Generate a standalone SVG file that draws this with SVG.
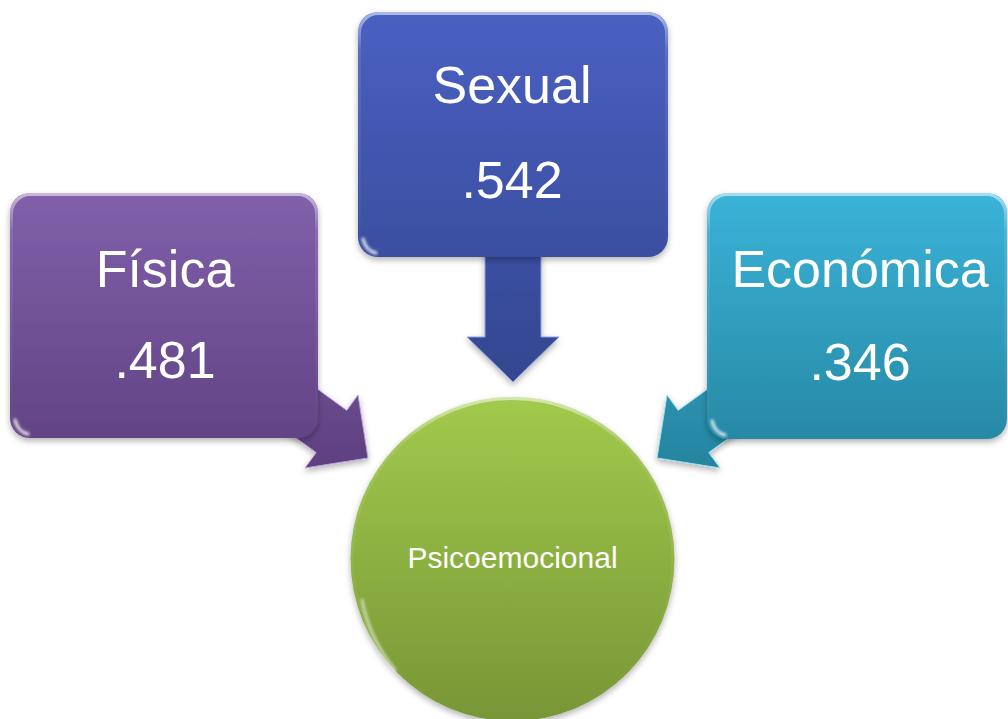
<svg xmlns="http://www.w3.org/2000/svg" width="1008" height="719" viewBox="0 0 1008 719">
  <style>
    .big { font-family: "Liberation Sans", Arial, sans-serif; font-size: 52px; fill: #ffffff; text-anchor: middle; }
    .small { font-family: "Liberation Sans", Arial, sans-serif; font-size: 30px; fill: #ffffff; text-anchor: middle; }
    .shine { fill: none; stroke: #ffffff; stroke-linecap: round; }
  </style>
  <defs>
    <linearGradient id="gPurple" x1="0" y1="193" x2="0" y2="470" gradientUnits="userSpaceOnUse">
      <stop offset="0" stop-color="#8060aa"/>
      <stop offset="1" stop-color="#5f4080"/>
    </linearGradient>
    <linearGradient id="gBlue" x1="0" y1="12" x2="0" y2="385" gradientUnits="userSpaceOnUse">
      <stop offset="0" stop-color="#4a60c2"/>
      <stop offset="1" stop-color="#33468f"/>
    </linearGradient>
    <linearGradient id="gCyan" x1="0" y1="193" x2="0" y2="470" gradientUnits="userSpaceOnUse">
      <stop offset="0" stop-color="#3ab3d8"/>
      <stop offset="1" stop-color="#25849f"/>
    </linearGradient>
    <linearGradient id="gGreen" x1="0" y1="0" x2="0" y2="1">
      <stop offset="0" stop-color="#a2ca4c"/>
      <stop offset="1" stop-color="#779636"/>
    </linearGradient>
    <linearGradient id="gEdge" x1="0" y1="0" x2="0" y2="1">
      <stop offset="0" stop-color="#ffffff" stop-opacity="0.55"/>
      <stop offset="0.15" stop-color="#ffffff" stop-opacity="0.1"/>
      <stop offset="1" stop-color="#ffffff" stop-opacity="0"/>
    </linearGradient>
    <filter id="shadow" x="-10%" y="-10%" width="120%" height="125%">
      <feDropShadow dx="0" dy="3" stdDeviation="3" flood-color="#000000" flood-opacity="0.3"/>
    </filter>
    <filter id="blur" x="-20%" y="-50%" width="140%" height="200%">
      <feGaussianBlur stdDeviation="1.5"/>
    </filter>
  </defs>

  <g id="connectors" filter="url(#shadow)">
    <polygon id="arrow-fisica" fill="url(#gPurple)" stroke="#b9a3d6" stroke-width="1" points="273.8,357.4 346.8,410.4 358,395 368,458 305,468 316.2,452.6 243.2,399.6"/>
    <polygon id="arrow-sexual" fill="url(#gBlue)" stroke="#8e9ee0" stroke-width="1" points="485,250 541,250 541,337 559,337 513,382 467,337 485,337"/>
    <polygon id="arrow-economica" fill="url(#gCyan)" stroke="#9ee0f0" stroke-width="1" points="751.2,357.4 678.2,410.4 667,395 657,458 720,468 708.8,452.6 781.8,399.6"/>
  </g>

  <g id="fisica">
    <rect x="10" y="193" width="308" height="245" rx="20" fill="url(#gPurple)" filter="url(#shadow)"/>
    <rect x="11.5" y="194.5" width="305" height="242" rx="19" fill="none" stroke="url(#gEdge)" stroke-width="3"/>
    <path class="shine" d="M30,202 L298,202" stroke-width="3" opacity="0.5" filter="url(#blur)"/>
    <path class="shine" d="M15,420 Q18,432 28,434" stroke-width="3" opacity="0.9" filter="url(#blur)"/>
    <text class="big" x="165" y="287">Física</text>
    <text class="big" x="165" y="378">.481</text>
  </g>

  <g id="sexual">
    <rect x="358" y="12" width="310" height="245" rx="20" fill="url(#gBlue)" filter="url(#shadow)"/>
    <rect x="359.5" y="13.5" width="307" height="242" rx="19" fill="none" stroke="url(#gEdge)" stroke-width="3"/>
    <path class="shine" d="M378,21 L648,21" stroke-width="3" opacity="0.5" filter="url(#blur)"/>
    <path class="shine" d="M363,239 Q366,251 376,253" stroke-width="3" opacity="0.9" filter="url(#blur)"/>
    <text class="big" x="512" y="103">Sexual</text>
    <text class="big" x="512" y="198">.542</text>
  </g>

  <g id="economica">
    <rect x="707" y="193" width="300" height="246" rx="20" fill="url(#gCyan)" filter="url(#shadow)"/>
    <rect x="708.5" y="194.5" width="297" height="243" rx="19" fill="none" stroke="url(#gEdge)" stroke-width="3"/>
    <path class="shine" d="M727,202 L987,202" stroke-width="3" opacity="0.5" filter="url(#blur)"/>
    <path class="shine" d="M712,421 Q715,433 725,435" stroke-width="3" opacity="0.9" filter="url(#blur)"/>
    <text class="big" x="860" y="287">Económica</text>
    <text class="big" x="860" y="380">.346</text>
  </g>

  <g id="psicoemocional">
    <circle cx="512.5" cy="559" r="162" fill="url(#gGreen)" filter="url(#shadow)"/>
    <circle cx="512.5" cy="559" r="160.5" fill="none" stroke="url(#gEdge)" stroke-width="3"/>
    <path class="shine" d="M362,600 A155,155 0 0 0 395,670" stroke-width="3" opacity="0.6" filter="url(#blur)"/>
    <text class="small" x="512.5" y="568">Psicoemocional</text>
  </g>
</svg>
